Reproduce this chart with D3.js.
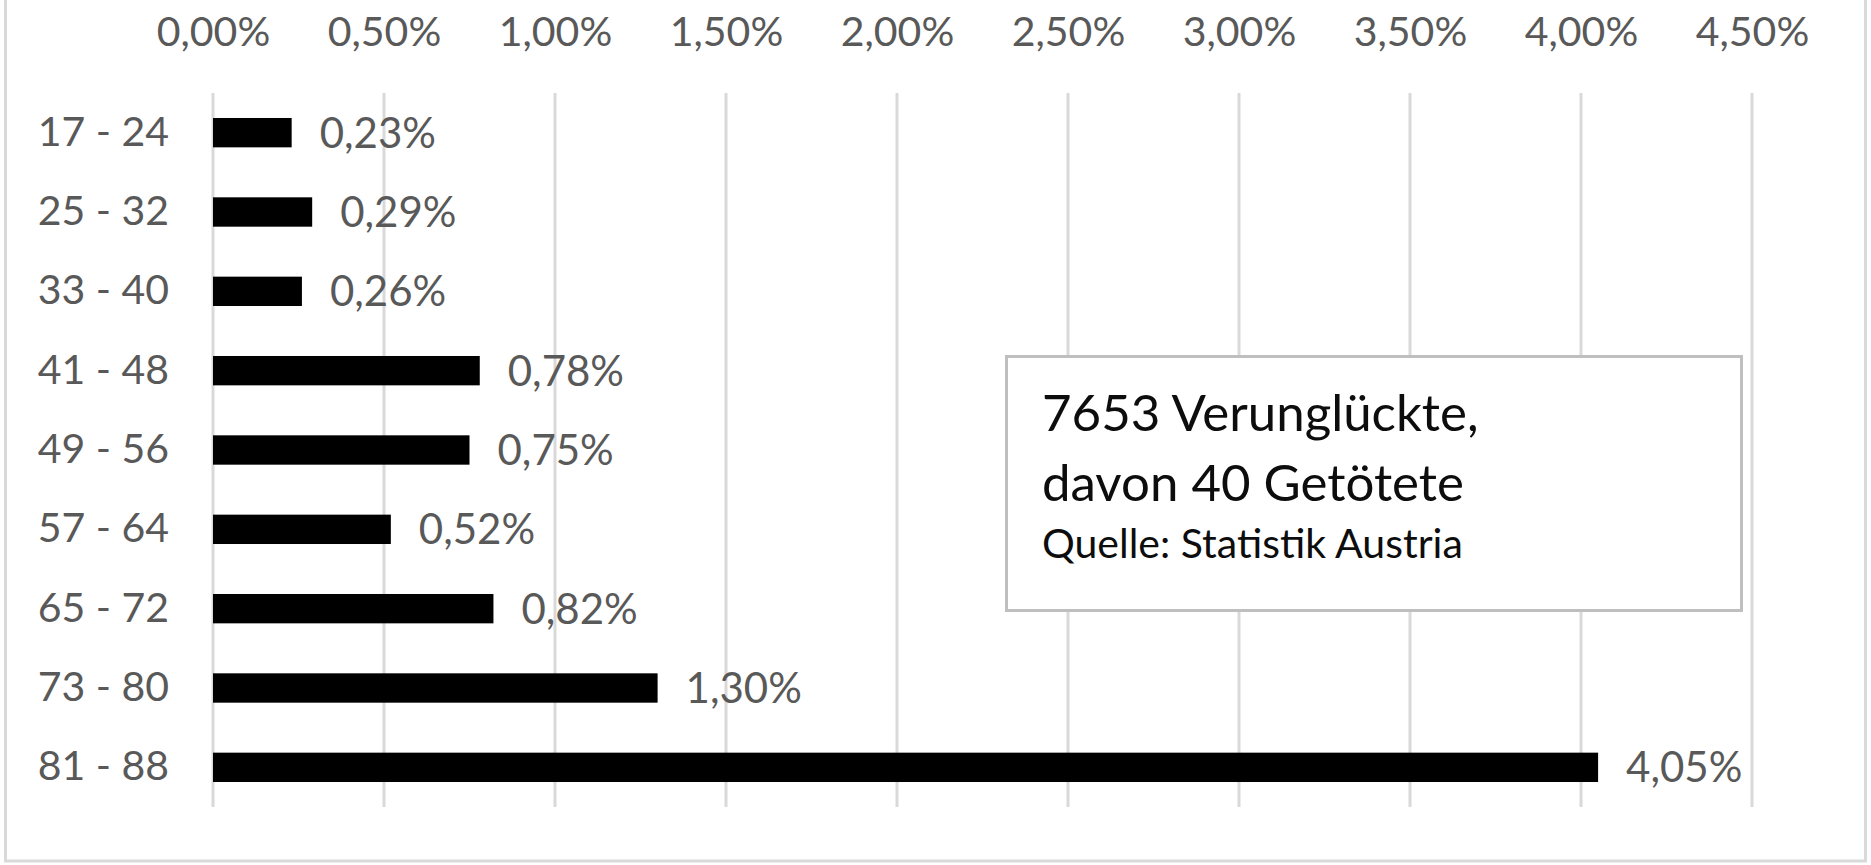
<!DOCTYPE html>
<html>
<head>
<meta charset="utf-8">
<script src="https://cdn.jsdelivr.net/npm/d3@7"></script>
<style>
  html, body { margin: 0; padding: 0; background: #fff; }
  svg { display: block; font-family: Lato, "Open Sans", sans-serif; }
</style>
</head>
<body>
<svg id="chart"></svg>
<script>
const categories = ['17 - 24', '25 - 32', '33 - 40', '41 - 48', '49 - 56', '57 - 64', '65 - 72', '73 - 80', '81 - 88'];
const values = [0.23, 0.29, 0.26, 0.78, 0.75, 0.52, 0.82, 1.30, 4.05];
const xTicks = [0, 0.5, 1, 1.5, 2, 2.5, 3, 3.5, 4, 4.5];
const boxLines = ['7653 Verunglückte,', 'davon 40 Getötete'];
const boxSource = 'Quelle: Statistik Austria';

const svgWidth = 1871, svgHeight = 865;
const plot = { left: 213, right: 1752, top: 93, bottom: 807 };

const de = d3.formatLocale({ decimal: ',', thousands: '.', grouping: [3], currency: ['', ' €'] });
const pct = de.format('.2%');
const fmt = d => pct(d / 100);

const svg = d3.select('#chart')
  .attr('width', svgWidth)
  .attr('height', svgHeight);

// outer chart frame (top edge is cut off in the picture)
svg.append('rect')
  .attr('x', 5.5)
  .attr('y', -10)
  .attr('width', 1860)
  .attr('height', 871)
  .attr('fill', 'none')
  .attr('stroke', '#d9d9d9')
  .attr('stroke-width', 3);

const xScale = d3.scaleLinear()
  .domain([0, 4.5])
  .range([plot.left, plot.right]);

const yScale = d3.scaleBand()
  .domain(categories)
  .range([plot.top, plot.bottom])
  .paddingInner(0.63)
  .paddingOuter(0.315);

// gridlines
svg.append('g')
  .selectAll('line')
  .data(xTicks)
  .enter()
  .append('line')
  .attr('x1', d => xScale(d))
  .attr('x2', d => xScale(d))
  .attr('y1', plot.top)
  .attr('y2', plot.bottom)
  .attr('stroke', '#d9d9d9')
  .attr('stroke-width', 3);

// top axis labels
const xAxis = d3.axisTop(xScale)
  .tickValues(xTicks)
  .tickFormat(fmt)
  .tickSize(0)
  .tickPadding(0);

svg.append('g')
  .attr('transform', 'translate(0,46)')
  .call(xAxis)
  .call(g => g.select('.domain').remove())
  .selectAll('text')
  .attr('dy', 0)
  .attr('font-family', 'Lato, sans-serif')
  .attr('font-size', 41)
  .attr('fill', '#595959');

// category labels
const yAxis = d3.axisLeft(yScale)
  .tickSize(0)
  .tickPadding(0);

svg.append('g')
  .attr('transform', 'translate(169,0)')
  .call(yAxis)
  .call(g => g.select('.domain').remove())
  .selectAll('text')
  .attr('dy', 13)
  .attr('font-family', 'Lato, sans-serif')
  .attr('font-size', 41)
  .attr('fill', '#595959');

// bars
svg.append('g')
  .selectAll('rect')
  .data(values)
  .enter()
  .append('rect')
  .attr('x', xScale(0))
  .attr('y', (d, i) => yScale(categories[i]))
  .attr('width', d => xScale(d) - xScale(0))
  .attr('height', yScale.bandwidth())
  .attr('fill', '#000');

// value labels
svg.append('g')
  .selectAll('text')
  .data(values)
  .enter()
  .append('text')
  .text(d => fmt(d))
  .attr('x', d => xScale(d) + 28)
  .attr('y', (d, i) => yScale(categories[i]) + yScale.bandwidth() / 2 + 15)
  .attr('font-size', 42)
  .attr('fill', '#595959');

// annotation box
const box = svg.append('g');
box.append('rect')
  .attr('x', 1006.5)
  .attr('y', 356.5)
  .attr('width', 735)
  .attr('height', 254)
  .attr('fill', '#fff')
  .attr('stroke', '#bfbfbf')
  .attr('stroke-width', 3);

box.selectAll('text.big')
  .data(boxLines)
  .enter()
  .append('text')
  .attr('class', 'big')
  .text(d => d)
  .attr('x', 1042)
  .attr('y', (d, i) => 431 + i * 70)
  .attr('font-size', 51)
  .attr('fill', '#0d0d0d');

box.append('text')
  .text(boxSource)
  .attr('x', 1042)
  .attr('y', 558)
  .attr('font-size', 41)
  .attr('fill', '#0d0d0d');
</script>
</body>
</html>
